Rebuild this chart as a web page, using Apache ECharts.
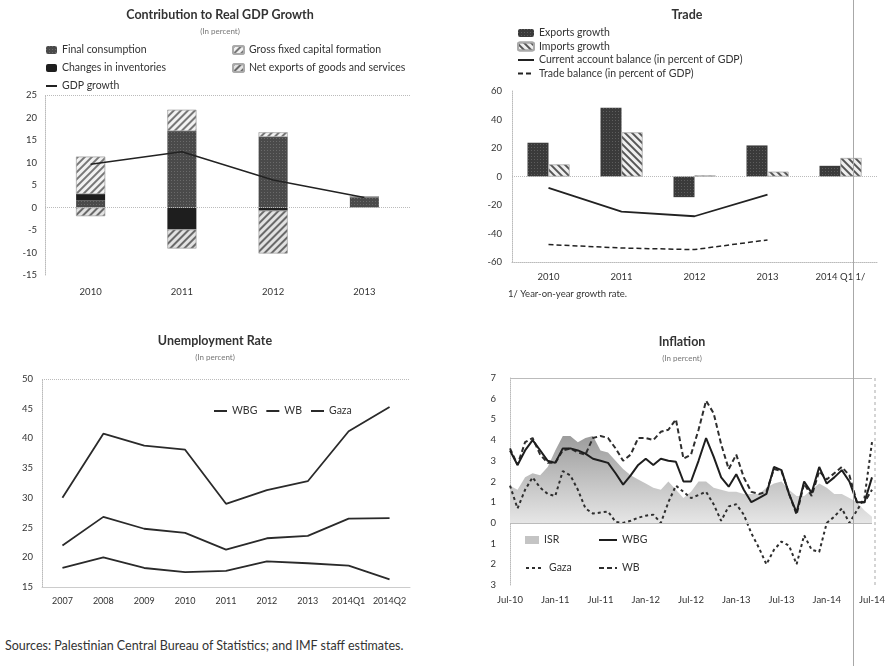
<!DOCTYPE html>
<html><head><meta charset="utf-8">
<script src="https://cdn.jsdelivr.net/npm/echarts@6/dist/echarts.min.js"></script>
<style>
body{margin:0;background:#fff;width:888px;height:666px;position:relative;overflow:hidden;font-family:Lato,'Noto Sans',sans-serif;}
.c{position:absolute;}
#src{position:absolute;left:5px;top:638px;font-size:12.5px;color:#333;white-space:nowrap;}
#vline{position:absolute;left:853px;top:0;width:1px;height:666px;background:#a8a8a8;}
</style></head><body>
<div id="c1" class="c" style="left:0;top:0;width:444px;height:310px"></div>
<div id="c2" class="c" style="left:444px;top:0;width:444px;height:310px"></div>
<div id="c3" class="c" style="left:0;top:325px;width:444px;height:300px"></div>
<div id="c4" class="c" style="left:444px;top:325px;width:444px;height:300px"></div>
<div id="src">Sources: Palestinian Central Bureau of Statistics; and IMF staff estimates.</div>
<div id="vline"></div>
<script>
// ---- Contribution to Real GDP Growth ----
const gdpYears = ['2010','2011','2012','2013'];
const finalConsumption = [1.6, 17.0, 15.7, 2.4];
const inventories = [1.4, -4.9, -0.7, 0];
const gfcf = [8.3, 4.7, 1.0, 0];
const netExports = [-1.9, -4.2, -9.5, 0];
const gdpGrowth = [9.6, 12.4, 6.1, 2.2];

// ---- Trade ----
const tradeCats = ['2010','2011','2012','2013','2014 Q1 1/'];
const exportsGrowth = [23.7, 48.3, -14.5, 21.8, 7.5];
const importsGrowth = [8.4, 30.9, 0.7, 3.3, 12.9];
const currentAccount = [-8.0, -24.6, -27.9, -12.7, null];
const tradeBalance = [-47.8, -50.2, -51.3, -44.5, null];

// ---- Unemployment ----
const unempCats = ['2007','2008','2009','2010','2011','2012','2013','2014Q1','2014Q2'];
const unempWBG = [22.0, 26.8, 24.8, 24.1, 21.3, 23.2, 23.6, 26.5, 26.6];
const unempWB = [18.2, 20.0, 18.2, 17.5, 17.7, 19.3, 19.0, 18.6, 16.3];
const unempGaza = [30.0, 40.8, 38.8, 38.1, 29.0, 31.3, 32.8, 41.2, 45.3];

// ---- Inflation ----
const months = ['Jul-10','Aug-10','Sep-10','Oct-10','Nov-10','Dec-10','Jan-11','Feb-11','Mar-11','Apr-11','May-11','Jun-11',
 'Jul-11','Aug-11','Sep-11','Oct-11','Nov-11','Dec-11','Jan-12','Feb-12','Mar-12','Apr-12','May-12','Jun-12',
 'Jul-12','Aug-12','Sep-12','Oct-12','Nov-12','Dec-12','Jan-13','Feb-13','Mar-13','Apr-13','May-13','Jun-13',
 'Jul-13','Aug-13','Sep-13','Oct-13','Nov-13','Dec-13','Jan-14','Feb-14','Mar-14','Apr-14','May-14','Jun-14','Jul-14'];
const inflISR = [1.8,1.6,2.2,2.4,2.3,2.7,3.5,4.2,4.2,3.9,4.1,4.2,3.5,3.4,3.0,2.6,2.3,2.1,1.9,1.7,1.6,2.0,1.6,1.2,1.5,2.0,2.0,1.7,1.6,1.5,1.5,1.4,1.4,1.4,1.7,1.9,2.0,1.6,1.3,1.3,1.6,1.9,1.7,1.4,1.4,1.2,1.0,0.6,0.3];
const inflWBG = [3.5,2.8,3.5,4.0,3.5,3.0,2.9,3.6,3.6,3.5,3.35,3.1,3.0,2.9,2.4,1.85,2.3,2.8,3.1,2.8,3.1,3.0,2.95,2.0,2.0,3.0,4.1,3.2,2.2,1.75,2.35,1.6,1.0,1.2,1.4,2.7,2.55,1.4,0.5,2.0,1.45,2.7,1.9,2.2,2.55,2.0,1.0,1.0,2.2];
const inflWB = [3.6,2.8,3.9,4.1,3.3,2.9,2.9,3.5,3.6,3.4,3.3,4.1,4.2,4.1,3.6,3.0,3.3,4.1,4.1,4.0,4.4,4.5,5.0,3.1,3.3,4.5,5.9,5.3,3.8,2.6,3.3,2.2,1.5,1.4,1.5,2.6,2.5,1.4,0.4,1.9,1.3,2.5,2.1,2.4,2.7,2.3,1.0,1.0,1.6];
const inflGaza = [1.8,0.7,1.6,2.2,1.7,1.4,1.3,2.5,2.3,1.6,0.7,0.45,0.5,0.55,0.05,0.0,0.1,0.25,0.35,0.4,0.0,1.0,1.8,1.5,1.2,1.35,1.5,0.9,0.1,0.8,0.9,0.4,-0.5,-1.2,-2.0,-1.3,-0.9,-1.1,-2.0,-0.6,-1.3,-1.4,0.0,0.3,0.7,0.0,0.6,1.2,3.9];

const FONT = 'Lato, "Noto Sans", sans-serif';
const TXT = '#333';
function hatch(color, rot){ return {symbol:'rect', symbolSize:1, dashArrayX:[1,0], dashArrayY:[1.2,2.6], rotation:rot, color:color}; }
function dots(color){ return {symbol:'rect', symbolSize:1, dashArrayX:[1,1.5], dashArrayY:[1,1.5], color:color}; }
function titles(cx, t1, t2, top){
  const arr = [{text:t1, left:cx, textAlign:'center', top:top, padding:0, textStyle:{fontFamily:FONT,fontSize:12.5,fontWeight:'bold',color:'#333'}}];
  if (t2) arr.push({text:t2, left:cx, textAlign:'center', top:top+19, padding:0, textStyle:{fontFamily:FONT,fontSize:8,fontWeight:'normal',color:'#777'}});
  return arr;
}
const zeroMark = (vals, type) => ({silent:true, symbol:'none', label:{show:false}, lineStyle:{color:'#bbb', type:type||'dotted', width:1}, data:vals.map(v=>({yAxis:v}))});
const legText = {fontFamily:FONT, fontSize:10.5, color:TXT, lineHeight:12};
const lineItem = name => ({name:name, itemStyle:{opacity:0}});

// Chart 1
const c1 = echarts.init(document.getElementById('c1'));
c1.setOption({
  animation:false, textStyle:{fontFamily:FONT},
  title: titles(220, 'Contribution to Real GDP Growth', '(In percent)', 8),
  legend:[
    {orient:'vertical', left:45, top:44, padding:0, itemGap:6, itemWidth:11, itemHeight:8, textStyle:legText,
     data:['Final consumption','Changes in inventories', lineItem('GDP growth')]},
    {orient:'vertical', left:232, top:44, padding:0, itemGap:6, itemWidth:11, itemHeight:8, textStyle:legText,
     data:['Gross fixed capital formation','Net exports of goods and services']}
  ],
  grid:{left:45, top:95, width:365, height:180, outerBoundsMode:'none'},
  xAxis:{type:'category', data:gdpYears, axisLine:{show:false}, axisTick:{show:false},
         axisLabel:{margin:12, fontSize:9.5, color:TXT}},
  yAxis:{type:'value', min:-15, max:25, interval:5, axisLine:{show:true, lineStyle:{color:'#bbb', type:'dotted'}},
         splitLine:{show:false}, axisLabel:{fontSize:9.5, color:TXT, margin:8}},
  series:[
    {name:'Final consumption', type:'bar', stack:'g', barWidth:29, data:finalConsumption,
     itemStyle:{color:'#4a4a4a', decal:dots('rgba(255,255,255,0.18)')}},
    {name:'Changes in inventories', type:'bar', stack:'g', barWidth:29, data:inventories,
     itemStyle:{color:'#1e1e1e'}},
    {name:'Gross fixed capital formation', type:'bar', stack:'g', barWidth:29, data:gfcf,
     itemStyle:{color:'#f2f2f2', borderColor:'#aaa', borderWidth:0.5, decal:hatch('#777', -Math.PI/4)}},
    {name:'Net exports of goods and services', type:'bar', stack:'g', barWidth:29, data:netExports,
     itemStyle:{color:'#e2e2e2', borderColor:'#aaa', borderWidth:0.5, decal:hatch('#6a6a6a', -Math.PI/4)}},
    {name:'GDP growth', type:'line', data:gdpGrowth, symbol:'none', z:5,
     lineStyle:{color:'#222', width:1.5}, itemStyle:{color:'#222'}, markLine:zeroMark([0,25])}
  ]
});

// Chart 2
const c2 = echarts.init(document.getElementById('c2'));
c2.setOption({
  animation:false, textStyle:{fontFamily:FONT},
  title: titles(243, 'Trade', null, 8).concat([{text:'1/ Year-on-year growth rate.', left:64, top:289, padding:0,
     textStyle:{fontFamily:FONT, fontSize:9.5, fontWeight:'normal', color:TXT}}]),
  legend:{orient:'vertical', left:73, top:27, padding:0, itemGap:1.5, itemWidth:16, itemHeight:8, textStyle:legText,
     data:['Exports growth','Imports growth', lineItem('Current account balance (in percent of GDP)'), lineItem('Trade balance (in percent of GDP)')]},
  grid:{left:68, top:91, width:365, height:171, outerBoundsMode:'none'},
  xAxis:{type:'category', data:tradeCats, axisLine:{show:true, onZero:false, lineStyle:{color:'#bbb', type:'dotted'}},
         axisTick:{show:false}, axisLabel:{margin:10, fontSize:9.5, color:TXT}},
  yAxis:{type:'value', min:-60, max:60, interval:20, axisLine:{show:true, lineStyle:{color:'#bbb', type:'dotted'}},
         splitLine:{show:false}, axisLabel:{fontSize:9.5, color:TXT, margin:10}},
  series:[
    {name:'Exports growth', type:'bar', barWidth:21, barGap:'0%', data:exportsGrowth,
     itemStyle:{color:'#3a3a3a', decal:dots('rgba(255,255,255,0.18)')}},
    {name:'Imports growth', type:'bar', barWidth:21, barGap:'0%', data:importsGrowth,
     itemStyle:{color:'#efefef', borderColor:'#aaa', borderWidth:0.5, decal:hatch('#555', Math.PI/4)}},
    {name:'Current account balance (in percent of GDP)', type:'line', data:currentAccount, symbol:'none',
     lineStyle:{color:'#222', width:1.8}, itemStyle:{color:'#222'}, markLine:zeroMark([0])},
    {name:'Trade balance (in percent of GDP)', type:'line', data:tradeBalance, symbol:'none',
     lineStyle:{color:'#222', width:1.5, type:[5,3]}, itemStyle:{color:'#222'}}
  ]
});

// Chart 3
const c3 = echarts.init(document.getElementById('c3'));
c3.setOption({
  animation:false, textStyle:{fontFamily:FONT},
  title: titles(215, 'Unemployment Rate', '(In percent)', 9),
  legend:{orient:'horizontal', left:213, top:80, padding:0, itemGap:8, itemWidth:13, itemHeight:8, textStyle:legText,
     data:[lineItem('WBG'), lineItem('WB'), lineItem('Gaza')]},
  grid:{left:42, top:54, width:368, height:208, outerBoundsMode:'none'},
  xAxis:{type:'category', data:unempCats, boundaryGap:true, axisLine:{show:true, lineStyle:{color:'#ccc'}},
         axisTick:{show:false}, axisLabel:{interval:0, margin:10, fontSize:9, color:TXT}},
  yAxis:{type:'value', min:15, max:50, interval:5, axisLine:{show:true, lineStyle:{color:'#bbb', type:'dotted'}},
         splitLine:{show:false}, axisLabel:{fontSize:9.5, color:TXT, margin:9}},
  series:[
    {name:'WBG', type:'line', data:unempWBG, symbol:'none', lineStyle:{color:'#2a2a2a', width:1.8}, itemStyle:{color:'#2a2a2a'},
     markLine:zeroMark([50])},
    {name:'WB', type:'line', data:unempWB, symbol:'none', lineStyle:{color:'#2a2a2a', width:1.8}, itemStyle:{color:'#2a2a2a'}},
    {name:'Gaza', type:'line', data:unempGaza, symbol:'none', lineStyle:{color:'#2a2a2a', width:1.8}, itemStyle:{color:'#2a2a2a'}}
  ]
});

// Chart 4
const c4 = echarts.init(document.getElementById('c4'));
const legOne = (item, left, top, extra) => Object.assign({left:left, top:top, padding:0, itemWidth:18, itemHeight:8, textStyle:legText, data:[item]}, extra||{});
c4.setOption({
  animation:false, textStyle:{fontFamily:FONT},
  title: titles(238, 'Inflation', '(In percent)', 10),
  legend:[
    legOne({name:'ISR', icon:'rect', itemStyle:{color:'#c4c4c4'}}, 81, 209, {itemWidth:14}),
    legOne(lineItem('WBG'), 154, 209),
    legOne(lineItem('Gaza'), 81, 237),
    legOne(lineItem('WB'), 154, 237)
  ],
  graphic:[{type:'line', shape:{x1:431, y1:53, x2:431, y2:260}, style:{stroke:'#aaa', lineDash:[3,3], lineWidth:1}, silent:true}],
  grid:{left:66, top:53, width:362, height:207, outerBoundsMode:'none'},
  xAxis:{type:'category', data:months, boundaryGap:false, axisLine:{show:false}, axisTick:{show:false},
         axisLabel:{interval:5, margin:10, fontSize:9.5, color:TXT}},
  yAxis:{type:'value', min:-3, max:7, interval:1, axisLine:{show:true, lineStyle:{color:'#bbb', type:'dotted'}},
         splitLine:{show:false}, axisLabel:{fontSize:9.5, color:TXT, margin:14, formatter:v=>String(Math.abs(v))}},
  series:[
    {name:'ISR', type:'line', data:inflISR, symbol:'none', z:1, lineStyle:{width:0}, itemStyle:{color:'#c4c4c4'},
     areaStyle:{opacity:1, color:new echarts.graphic.LinearGradient(0,0,0,1,[{offset:0,color:'#9c9c9c'},{offset:1,color:'#e6e6e6'}])},
     markLine:zeroMark([0,7], 'solid')},
    {name:'WBG', type:'line', data:inflWBG, symbol:'none', z:4, lineStyle:{color:'#1e1e1e', width:2}, itemStyle:{color:'#1e1e1e'}},
    {name:'WB', type:'line', data:inflWB, symbol:'none', z:3, lineStyle:{color:'#2e2e2e', width:2, type:[5,3]}, itemStyle:{color:'#2e2e2e'}},
    {name:'Gaza', type:'line', data:inflGaza, symbol:'none', z:3, lineStyle:{color:'#2e2e2e', width:2, type:[3,3]}, itemStyle:{color:'#2e2e2e'}}
  ]
});
</script>
</body></html>
